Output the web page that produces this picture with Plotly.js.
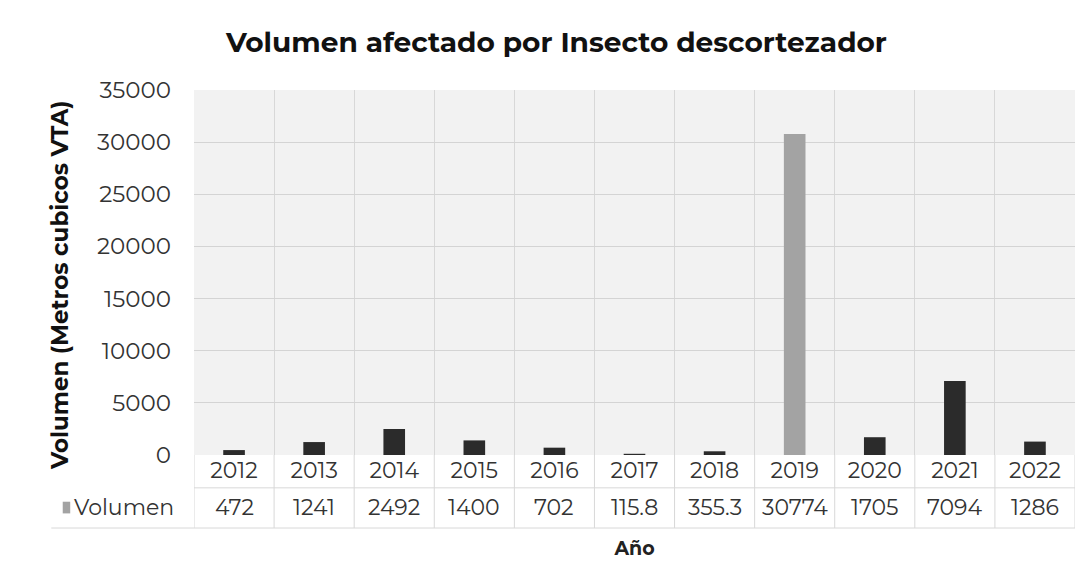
<!DOCTYPE html>
<html><head><meta charset="utf-8">
<script src="https://cdn.plot.ly/plotly-3.0.1.min.js"></script>
<style>html,body{margin:0;padding:0;background:#fff}#chart{width:1091px;height:586px}</style>
</head><body><div id="chart"></div>
<script>
const years = ['2012','2013','2014','2015','2016','2017','2018','2019','2020','2021','2022'];
const volumen = [472, 1241, 2492, 1400, 702, 115.8, 355.3, 30774, 1705, 7094, 1286];
const volumenLabels = ['472','1241','2492','1400','702','115.8','355.3','30774','1705','7094','1286'];
const seriesName = 'Volumen';
const yTitle = 'Volumen (Metros cubicos VTA)';

const font = 'Montserrat, "Open Sans", "DejaVu Sans", sans-serif';
const barColors = years.map(y => y === '2019' ? '#a3a3a3' : '#2b2b2b');

const shapes = [];
const lineCol = '#d8d8d8';
for (let i = 0; i <= years.length; i++) {
  shapes.push({type:'line', xref:'x', yref:'paper', x0:i-0.5, x1:i-0.5, y0:0, y1:-0.2, line:{color:lineCol, width:1}});
}
shapes.push({type:'line', xref:'x', yref:'paper', x0:-0.5, x1:years.length-0.5, y0:-0.09, y1:-0.09, line:{color:lineCol, width:1}});
shapes.push({type:'line', xref:'paper', yref:'paper', x0:-0.162, x1:1, y0:-0.2, y1:-0.2, line:{color:lineCol, width:1}});
shapes.push({type:'rect', xref:'paper', yref:'paper', x0:-0.149, x1:-0.1405, y0:-0.128, y1:-0.16, fillcolor:'#a3a3a3', line:{width:0}});

const annotations = years.map((y, i) => ({
  x: i, xref:'x', y:-0.145, yref:'paper', text: volumenLabels[i], showarrow:false,
  font:{family:font, size:22, color:'#333'}, yanchor:'middle'
}));
annotations.push({x:-0.138, xref:'paper', y:-0.145, yref:'paper', text:seriesName, showarrow:false, xanchor:'left', yanchor:'middle', font:{family:font, size:22, color:'#333'}});
annotations.push({x:-0.152, xref:'paper', y:0.466, yref:'paper', text:'<b>'+yTitle+'</b>', textangle:-90, showarrow:false, xanchor:'center', yanchor:'middle', font:{family:font, size:23, color:'#111'}});

Plotly.newPlot('chart', [{
  type:'bar', x: years, y: volumen, name: seriesName,
  marker:{color: barColors}, width: 0.27, hoverinfo:'x+y'
}], {
  width:1091, height:586,
  margin:{l:194, r:16, t:90, b:131},
  paper_bgcolor:'#ffffff', plot_bgcolor:'#f2f2f2',
  showlegend:false,
  title:{text:'<b>Volumen afectado por Insecto descortezador</b>', x:0.51, xanchor:'center', y:0.928, yanchor:'middle', font:{family:font, size:28, color:'#111'}},
  xaxis:{type:'category', tickson:'boundaries', showgrid:true, gridcolor:'#d8d8d8', gridwidth:1,
    ticks:'', tickfont:{family:font, size:22, color:'#333'}, ticklabelstandoff:0,
    title:{text:'<b>Año</b>', font:{family:font, size:19, color:'#222'}, standoff:58},
    zeroline:false, showline:false, range:[-0.5, years.length-0.5]},
  yaxis:{range:[0,35000], dtick:5000, tickformat:'d', showgrid:true, gridcolor:'#d4d4d4', gridwidth:1,
    tickfont:{family:font, size:23, color:'#333'}, ticks:'', ticklen:0, ticklabelstandoff:22,
    zeroline:false, showline:false},
  shapes: shapes, annotations: annotations
}, {displayModeBar:false, staticPlot:true});
</script></body></html>
